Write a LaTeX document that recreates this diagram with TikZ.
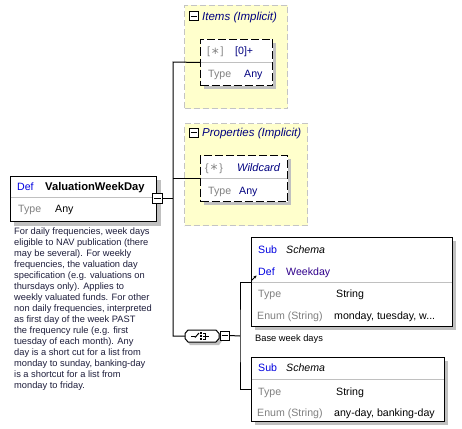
\documentclass[tikz,border=0pt]{standalone}
\usepackage{fontspec}
\setmainfont{Liberation Sans}
\newfontfamily\djv{DejaVu Sans}
\usetikzlibrary{calc,arrows.meta}
\definecolor{kwblue}{RGB}{0,0,224}
\definecolor{navy}{RGB}{0,0,128}
\definecolor{purp}{RGB}{48,0,140}
\definecolor{gtext}{RGB}{128,128,128}
\definecolor{shad}{RGB}{192,192,192}
\definecolor{yel}{RGB}{255,255,204}
\definecolor{ybord}{RGB}{196,196,196}
\definecolor{desc}{RGB}{30,30,60}
\definecolor{divc}{RGB}{192,192,192}
\newcommand{\astk}{\raisebox{-3.2pt}{\djv\fontsize{14}{14}\selectfont *}}
\begin{document}
\begin{tikzpicture}[x=1pt,y=-1pt,
  box/.style={draw, line width=1pt, fill=white, inner sep=0pt, anchor=north west},
  dbox/.style={box, dash pattern=on 8pt off 3pt},
  ybox/.style={draw=ybord, fill=yel, line width=1pt, dash pattern=on 6pt off 3pt, inner sep=0pt, anchor=north west},
  divline/.style={draw=divc, line width=0.8pt},
  conn/.style={draw, line width=1pt},
  lbl/.style={anchor=base west, inner sep=0pt, font=\fontsize{10.6}{12}\selectfont},
  kw/.style={lbl, text=kwblue},
  gr/.style={lbl, text=gtext},
  val/.style={lbl, text=black},
  ttl/.style={lbl, text=navy, font=\fontsize{11.5}{12}\selectfont\itshape},
  btn/.style={draw, line width=1pt, fill=white, inner sep=0pt, minimum size=9pt,
    path picture={\draw[line width=1pt] ($(path picture bounding box.west)+(1.5,0)$) -- ($(path picture bounding box.east)+(-1.5,0)$);}},
  small/.style={anchor=base west, inner sep=0pt, font=\fontsize{9.3}{11}\selectfont, text=desc}
]
\useasboundingbox (0,0) rectangle (462,428);
\fill[white] (0,0) rectangle (462,428);

% ---------- yellow groups ----------
\node[ybox, minimum width=103pt, minimum height=103pt] (itemsgrp) at (184,5) {};
\node[ybox, minimum width=123pt, minimum height=102pt] (propgrp) at (184,123) {};
\node[btn] (itemsbtn) at (193.5,16.5) {};
\node[ttl] (itemstitle) at (202,20.5) {Items (Implicit)};
\node[btn] (propbtn) at (193.5,132.5) {};
\node[ttl] (proptitle) at (202,136.5) {Properties (Implicit)};

% ---------- shadows ----------
\fill[shad] (14,180) rectangle (161,226);
\fill[shad] (204,43) rectangle (276,89);
\fill[shad] (204,159) rectangle (291,205);
\fill[shad] (255,241) rectangle (456,330);
\fill[shad] (255,361) rectangle (448,425);

% ---------- main element ----------
\node[box, minimum width=146pt, minimum height=45pt] (main) at (10,176) {};
\draw[divline] (10.5,197) -- (155.5,197);
\node[kw] (mdef) at (17,190) {Def};
\node[val, font=\fontsize{11.2}{12}\selectfont\bfseries] (mname) at (45,190) {ValuationWeekDay};
\node[gr] (mtype) at (18,212) {Type};
\node[val] (many) at (55,212) {Any};
\node[btn, minimum size=10pt] (mainbtn) at (157.5,198) {};

% description
\node[small, anchor=north west, align=left] (mdesc) at (14,227.5) {For daily frequencies, week days\\
eligible to NAV publication (there\\
may be several). For weekly\\
frequencies, the valuation day\\
specification (e.g. valuations on\\
thursdays only). Applies to\\
weekly valuated funds. For other\\
non daily frequencies, interpreted\\
as first day of the week PAST\\
the frequency rule (e.g. first\\
tuesday of each month). Any\\
day is a short cut for a list from\\
monday to sunday, banking-day\\
is a shortcut for a list from\\
monday to friday.};

% ---------- items ----------
\node[dbox, minimum width=72pt, minimum height=46pt] (itemsbox) at (200,39) {};
\draw[divline] (200.5,62) -- (271.5,62);
\node[gr] (istar) at (207,55) {[\,\astk\,]};
\node[lbl, text=navy] (icard) at (235,55) {[0]+};
\node[gr] (itype) at (208,77) {Type};
\node[lbl, text=navy] (iany) at (244,77) {Any};

% ---------- properties ----------
\node[dbox, minimum width=87pt, minimum height=46pt] (propbox) at (200,155) {};
\draw[divline] (200.5,178) -- (286.5,178);
\node[gr] (pstar) at (205,171) {\{\,\astk\,\}};
\node[lbl, text=navy, font=\fontsize{11}{12}\selectfont\itshape] (pwild) at (237,171) {Wildcard};
\node[gr] (ptype) at (208,194) {Type};
\node[lbl, text=navy] (pany) at (239,194) {Any};

% ---------- choice ----------
\coordinate (cl) at (185,336);
\fill[shad] (190,333) -- (219,333) -- (222,336) -- (222,341) -- (219,345) -- (190,345) -- (187,341) -- cycle;
\draw[line width=1pt, fill=white] (188,330) -- (216,330) -- (219,333.5) -- (219,338.5) -- (216,342) -- (188,342) -- (185,338.5) -- (185,333.5) -- cycle;
\node[inner sep=0pt, minimum width=34pt, minimum height=12pt] (choice) at (202,336) {};
\draw[line width=1pt] (191,336) -- (195,336);
\draw[line width=1pt] (195,337.5) -- (199,333);
\fill (200,332.3) rectangle (202,334.3);
\fill (200,335) rectangle (202,337);
\fill (200,337.7) rectangle (202,339.7);
\draw[line width=1pt] (203,333) -- (205.5,333) -- (205.5,339) -- (203,339);
\draw[line width=1pt] (203,336) -- (209,336);
\node[btn] (chbtn) at (224.5,335.5) {};

% ---------- sub 1 ----------
\node[box, minimum width=201pt, minimum height=89pt] (sub1) at (251,237) {};
\draw[divline] (251.5,282) -- (451.5,282);
\node[kw] (s1sub) at (258,253) {Sub};
\node[lbl, font=\fontsize{10.6}{12}\selectfont\itshape] (s1sch) at (286,253) {Schema};
\node[kw] (s1def) at (258,275) {Def};
\node[lbl, text=purp] (s1name) at (286,275) {Weekday};
\node[gr] (s1type) at (258,297) {Type};
\node[val] (s1str) at (336,297) {String};
\node[gr] (s1enum) at (257,319) {Enum (String)};
\node[val] (s1vals) at (334,319) {monday, tuesday, w...};
\draw[line width=0.9pt, -{Stealth[length=2.8pt,width=2.8pt]}] (251.8,280.2) -- (256.5,275.5);
\node[small, text=black] (s1desc) at (255,341) {Base week days};

% ---------- sub 2 ----------
\node[box, minimum width=193pt, minimum height=64pt] (sub2) at (251,357) {};
\draw[divline] (251.5,379) -- (443.5,379);
\node[kw] (s2sub) at (258,371) {Sub};
\node[lbl, font=\fontsize{10.6}{12}\selectfont\itshape] (s2sch) at (286,371) {Schema};
\node[gr] (s2type) at (258,395) {Type};
\node[val] (s2str) at (336,395) {String};
\node[gr] (s2enum) at (257,416) {Enum (String)};
\node[val] (s2vals) at (334,416) {any-day, banking-day};

% ---------- connectors ----------
\coordinate (ttop) at (173,62);
\coordinate (tbot) at (173,336);
\coordinate (cj) at (240,336);
\draw[conn] (itemsbox.west) -- (ttop) -- (tbot) -- (cl);
\draw[conn] (propbox.west) -- (propbox.west -| ttop);
\draw[conn] (mainbtn.east) -- (mainbtn.east -| ttop);
\draw[conn] (chbtn.east) -- (cj);
\draw[conn] (sub1.west) -| (cj) |- (sub2.west);
\end{tikzpicture}
\end{document}
